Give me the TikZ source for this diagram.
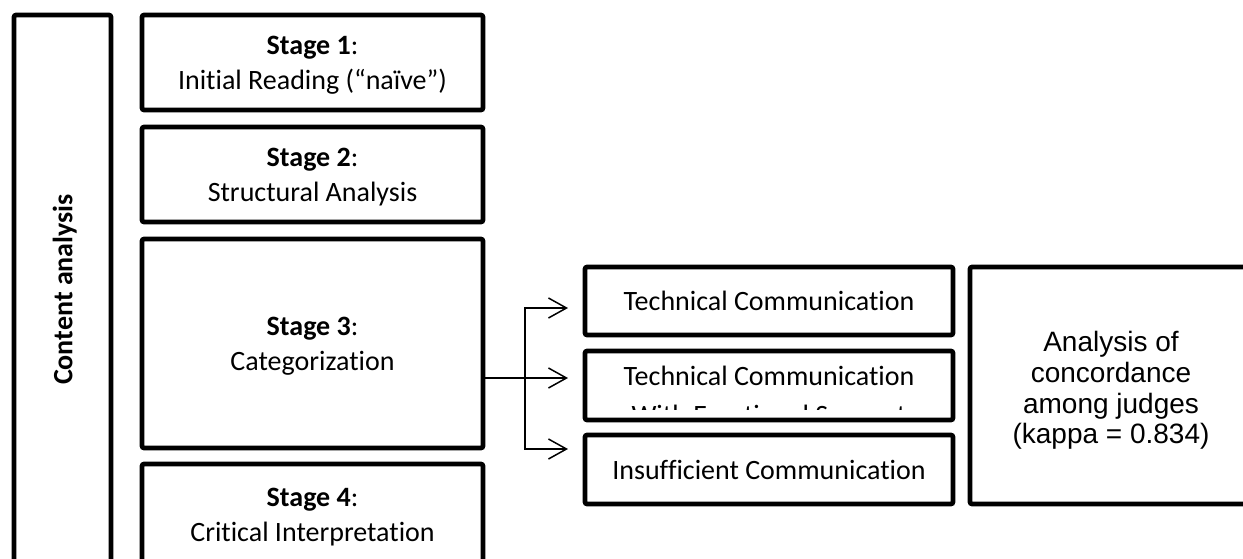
\documentclass[tikz,border=0pt]{standalone}
\usepackage{fontspec}
\setmainfont{Carlito}[Ligatures={NoCommon,NoContextual}]
\newfontfamily\arialfont{Liberation Sans}
\usepackage{tikz}
\usetikzlibrary{arrows.meta,positioning,calc}
\tikzset{>={Straight Barb[length=9pt,width=10pt]}}
\tikzset{
  box/.style={draw, line width=2.3pt, rounded corners=1pt, inner sep=0pt, align=center,
    text depth=0pt, font=\fontsize{14pt}{17.5pt}\selectfont},
  branch/.style={->, line width=0.75pt},
}

\begin{document}
\begin{tikzpicture}[x=0.5pt,y=-0.5pt]
  \useasboundingbox (0,0) rectangle (1243,558);
  \clip (0,0) rectangle (1243,558);

  % left band
  \node[box, rotate=90, minimum width=274.5pt, minimum height=48.5pt,
    font=\fontsize{14pt}{17pt}\selectfont\bfseries] (content) at (62.5,289.5) {Content analysis};

  % the four stages
  \node[box, minimum width=170.5pt, minimum height=47.5pt] (stage1) at (312.5,62.5)
    {\textbf{Stage 1}:\\Initial Reading (“naïve”)};
  \node[box, minimum width=170.5pt, minimum height=47.5pt] (stage2) at (312.5,174.5)
    {\textbf{Stage 2}:\\Structural Analysis};
  \node[box, minimum width=170.5pt, minimum height=104.5pt] (stage3) at (312.5,343.5)
    {\textbf{Stage 3}:\\Categorization};
  \node[box, minimum width=170.5pt, minimum height=51pt] (stage4) at (312.5,515)
    {\textbf{Stage 4}:\\Critical Interpretation};

  % categories
  \node[box, minimum width=184pt, minimum height=34pt] (tc1) at (769,301) {Technical Communication};
  \node[box, minimum width=184pt, minimum height=34.5pt] (tc2) at (769,385.5) {};
  \begin{scope}
    \clip ([shift={(2.3pt,-2.3pt)}]tc2.north west) rectangle ([shift={(-2.3pt,6.2pt)}]tc2.south east);
    \node[align=center, inner sep=0pt, font=\fontsize{14pt}{19.5pt}\selectfont] (tc2text) at (769,398)
      {Technical Communication\\With Emotional Support};
  \end{scope}
  \node[box, minimum width=184pt, minimum height=34.5pt] (insuf) at (769,469.5) {Insufficient Communication};

  % concordance
  \node[box, minimum width=141pt, minimum height=118.5pt] (kappa) at (1111,385.5) {};
  \node[align=center, inner sep=0pt, font=\arialfont\fontsize{14pt}{15.3pt}\selectfont]
    (kappatext) at ([yshift=-2.5pt]kappa.center)
    {Analysis of\\concordance\\among judges\\(kappa = 0.834)};

  % arrows out of stage 3
  \coordinate (fork) at (525,378);
  \coordinate (a1) at (568,308);
  \coordinate (a2) at (568,378);
  \coordinate (a3) at (568,449);
  \draw[branch] (stage3.east |- a2) -- (a2);
  \draw[branch] (fork) |- (a1);
  \draw[branch] (fork) |- (a3);
\end{tikzpicture}
\end{document}
